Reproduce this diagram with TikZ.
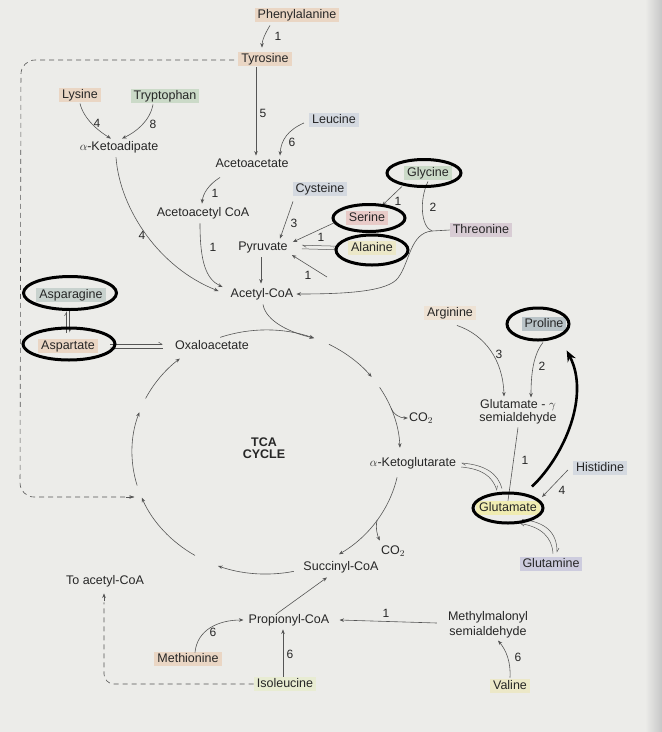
\documentclass[tikz,border=0pt]{standalone}
\usepackage{fontspec}
\setmainfont{Liberation Sans}
\usetikzlibrary{arrows.meta,calc}
\definecolor{bg}{RGB}{236,236,233}
\definecolor{ln}{RGB}{85,85,85}
\definecolor{peach}{RGB}{234,214,196}
\definecolor{lpeach}{RGB}{238,226,212}
\definecolor{grn}{RGB}{203,218,200}
\definecolor{bgrey}{RGB}{212,217,224}
\definecolor{lav}{RGB}{205,204,222}
\definecolor{prog}{RGB}{186,196,200}
\definecolor{mauve}{RGB}{216,204,212}
\definecolor{pinkc}{RGB}{232,203,200}
\definecolor{yel}{RGB}{236,232,200}
\definecolor{gyel}{RGB}{240,236,178}
\definecolor{pgrn}{RGB}{232,236,210}
\definecolor{asng}{RGB}{200,210,206}
\begin{document}
\begin{tikzpicture}[x=1pt,y=-1pt,
  every node/.style={font=\fontsize{12.5}{14}\selectfont, text=black!85},
  box/.style={inner xsep=3pt, inner ysep=1.5pt, text height=9pt, text depth=2.5pt},
  lab/.style={inner sep=1pt, font=\fontsize{12}{14}\selectfont},
  conn/.style={draw=ln, line width=0.6pt, -{Stealth[length=4.5pt,width=3.5pt]}},
  plainln/.style={draw=ln, line width=0.6pt},
  ring/.style={draw=black, line width=3pt},
  bigarrow/.style={draw=black, line width=2.6pt, -{Stealth[length=11pt,width=9pt]}},
  dashl/.style={draw=ln, line width=0.6pt, dash pattern=on 5pt off 4pt},
  harp/.style={draw=ln, line width=0.5pt, -{Straight Barb[harpoon,length=3.5pt,width=4pt]}}]
\useasboundingbox (0,0) rectangle (662,732);
\fill[bg] (0,0) rectangle (662,732);
\shade[left color=bg, right color=black!22] (645,0) rectangle (662,732);

% nodes
\node[box, fill=peach] (phe) at (297,15) {Phenylalanine};
\node[box, fill=peach] (tyr) at (265,59) {Tyrosine};
\node[box, fill=peach] (lys) at (80,95) {Lysine};
\node[box, fill=grn] (trp) at (165,96) {Tryptophan};
\node[box, fill=bgrey] (leu) at (334,120) {Leucine};
\node[box] (kad) at (119,147) {$\alpha$-Ketoadipate};
\node[box] (aca) at (252,164) {Acetoacetate};
\node[box] (acacoa) at (203,213) {Acetoacetyl CoA};
\node[box, fill=bgrey] (cys) at (320,189) {Cysteine};
\node[box, fill=grn] (gly) at (428,173) {Glycine};
\node[box, fill=pinkc] (ser) at (367,218) {Serine};
\node[box, fill=yel] (ala) at (372,248) {Alanine};
\node[box, fill=mauve] (thr) at (481,230) {Threonine};
\node[box] (pyr) at (263,247) {Pyruvate};
\node[box] (acoa) at (262,294) {Acetyl-CoA};
\node[box, fill=asng] (asn) at (71,295) {Asparagine};
\node[box, fill=peach] (asp) at (68,346) {Aspartate};
\node[box] (oaa) at (212,346) {Oxaloacetate};
\node[font=\fontsize{12.5}{12.5}\selectfont\bfseries, align=center] (tca) at (264,448) {TCA\\CYCLE};
\node[box, fill=lpeach] (arg) at (450,313) {Arginine};
\node[box, fill=prog] (pro) at (544,324) {Proline};
\node[align=center, inner sep=1pt, font=\fontsize{12.5}{13}\selectfont] (gsa) at (518,412) {Glutamate - $\gamma$\\semialdehyde};
\node[inner sep=1pt] (co2a) at (421,418) {CO$_2$};
\node[box] (akg) at (413,463) {$\alpha$-Ketoglutarate};
\node[box, fill=bgrey] (his) at (600,468) {Histidine};
\node[box, fill=gyel] (glu) at (508,508) {Glutamate};
\node[box, fill=lav] (gln) at (551,564) {Glutamine};
\node[inner sep=1pt] (co2b) at (393,551) {CO$_2$};
\node[box] (succ) at (341,567) {Succinyl-CoA};
\node[box] (toacoa) at (105,581) {To acetyl-CoA};
\node[box] (prop) at (289,620) {Propionyl-CoA};
\node[box, fill=peach] (met) at (188,659) {Methionine};
\node[box, fill=pgrn] (ile) at (285,684) {Isoleucine};
\node[align=center, inner sep=1pt, font=\fontsize{12.5}{15}\selectfont] (mms) at (488,625) {Methylmalonyl\\semialdehyde};
\node[box, fill=yel] (val) at (510,686) {Valine};

% step numbers
\node[lab] (n1) at (278,36) {1};
\node[lab] (n5) at (263,113) {5};
\node[lab] (n4a) at (97,123) {4};
\node[lab] (n8) at (153,124) {8};
\node[lab] (n6a) at (292,142) {6};
\node[lab] (n1b) at (215,193) {1};
\node[lab] (n3) at (294,223) {3};
\node[lab] (n1c) at (398,201) {1};
\node[lab] (n2) at (433,207) {2};
\node[lab] (n1d) at (321,237) {1};
\node[lab] (n1e) at (308,275) {1};
\node[lab] (n1f) at (213,247) {1};
\node[lab] (n4b) at (142,235) {4};
\node[lab] (n3b) at (499,354) {3};
\node[lab] (n2b) at (542,366) {2};
\node[lab] (n1g) at (525,460) {1};
\node[lab] (n4c) at (562,490) {4};
\node[lab] (n6b) at (213,632) {6};
\node[lab] (n6c) at (290,654) {6};
\node[lab] (n1h) at (386,613) {1};
\node[lab] (n6d) at (518,657) {6};

% coordinates
\coordinate (cyc) at (266,452);
\coordinate (ctop) at ($(cyc)+(-69:134 and 122)$);
\coordinate (br1) at ($(cyc)+(-21:134 and 122)$);
\coordinate (br2) at ($(cyc)+(34:134 and 122)$);
\coordinate (dend) at (134,497);
\coordinate (p1) at (327,277);
\coordinate (jn) at (432,231);

% TCA cycle arcs
\draw[conn] (cyc) ++(-110:134 and 122) arc[start angle=-110,end angle=-69,x radius=134,y radius=122];
\draw[conn] (cyc) ++(-62:134 and 122) arc[start angle=-62,end angle=-38,x radius=134,y radius=122];
\draw[conn] (cyc) ++(-32:134 and 122) arc[start angle=-32,end angle=-2,x radius=134,y radius=122];
\draw[conn] (cyc) ++(12:134 and 122) arc[start angle=12,end angle=57,x radius=134,y radius=122];
\draw[conn] (cyc) ++(78:134 and 122) arc[start angle=78,end angle=111,x radius=134,y radius=122];
\draw[conn] (cyc) ++(122:134 and 122) arc[start angle=122,end angle=158,x radius=134,y radius=122];
\draw[conn] (cyc) ++(164:134 and 122) arc[start angle=164,end angle=199,x radius=134,y radius=122];
\draw[conn] (cyc) ++(206:134 and 122) arc[start angle=206,end angle=230,x radius=134,y radius=122];
\draw[conn] (br1) .. controls ($(br1)+(2,6)$) and ($(co2a.west)+(-8,0)$) .. (co2a.west);
\draw[conn] (br2) .. controls ($(br2)+(-2,8)$) and ($(co2b.north west)+(-2,-8)$) .. ($(co2b.north west)+(0,-4)$);

% connectors top
\draw[conn] ($(phe.south)+(-27,3)$) .. controls (266,32) and (262,40) .. ($(tyr.north)+(-3,-4)$);
\draw[dashl, rounded corners=14] ($(tyr.west)+(-4,1)$) -- (21,60) -- (20,497) -- (dend);
\draw[ln, line width=0.6pt, -{Stealth[length=4.5pt,width=3.5pt]}] ($(dend)+(-8,0)$) -- (dend);
\draw[conn] ($(lys.south)+(0,1)$) .. controls (84,120) and (100,132) .. ($(kad.north)+(-8,-1)$);
\draw[conn] ($(trp.south)+(-12,1)$) .. controls (150,121) and (136,132) .. ($(kad.north)+(3,-1)$);
\draw[conn] ($(tyr.south)+(-9,1)$) -- ($(aca.north)+(4,-1)$);
\draw[conn] ($(leu.west)+(-5,3)$) .. controls (288,130) and (281,140) .. ($(aca.north)+(28,-1)$);
\draw[conn] ($(aca.south)+(-32,6)$) .. controls (208,185) and (203,194) .. ($(acacoa.north)+(-1,-2)$);
\draw[conn] ($(cys.south)+(-27,5)$) -- ($(pyr.north)+(17,-1)$);
\draw[conn] ($(gly.south)+(-26,6)$) -- ($(ser.north)+(15,-5)$);
\draw[conn] ($(ser.west)+(-12,5)$) -- ($(pyr.east)+(2,-5)$);
\draw[harp] ($(ala.west)+(-10,-1.8)$) -- ($(pyr.east)+(11,-1.8)$);
\draw[harp] ($(pyr.east)+(11,1.8)$) -- ($(ala.west)+(-10,1.8)$);
\draw[conn] (p1) -- ($(pyr.east)+(1,8)$);
\draw[conn] ($(pyr.south)+(-2,3)$) -- ($(acoa.north)+(-1,-3)$);
\draw[conn] ($(acacoa.south)+(-3,3)$) .. controls (200,262) and (206,279) .. ($(acoa.west)+(-5,-7)$);
\draw[conn] ($(kad.south)+(-3,3)$) .. controls (120,210) and (160,268) .. ($(acoa.west)+(-9,-3)$);
\draw[plainln] ($(gly.south)+(0,1)$) .. controls (419,200) and (421,227) .. (jn) -- (thr.west);
\draw[conn] (jn) .. controls (410,233) and (410,262) .. (398,278) .. controls (388,291) and (350,294) .. (acoa.east);
\draw[conn] ($(acoa.south)+(1,3)$) .. controls (266,322) and (292,333) .. (ctop);

% aspartate / asparagine / oxaloacetate
\draw[harp] ($(asp.north)+(-1.5,-6)$) -- ($(asn.south)+(-4.5,9)$);
\draw[harp] ($(asn.south)+(-1.5,9)$) -- ($(asp.north)+(1.5,-6)$);
\draw[harp] ($(asp)+(42,-1.8)$) -- ($(oaa.west)+(-9,-1.8)$);
\draw[harp] ($(oaa.west)+(-9,1.8)$) -- ($(asp)+(42,1.8)$);

% right side
\draw[conn] ($(arg.south)+(7,5)$) .. controls (485,335) and (503,360) .. ($(gsa.north)+(-14,-2)$);
\draw[conn] ($(pro.south)+(-1,11)$) .. controls (533,355) and (531,375) .. ($(gsa.north)+(13,-1)$);
\draw[plainln] ($(gsa.south)+(0,2)$) -- (glu.north);
\draw[conn] ($(his.west)+(-5,2)$) -- ($(glu.east)+(2,-11)$);
\draw[harp] ($(glu.north)+(-6,-12)$) .. controls (498,474) and (486,465) .. ($(akg.east)+(2,0)$);
\draw[harp] ($(akg.east)+(2,4)$) .. controls (482,469) and (492,476) .. ($(glu.north)+(-11,-10)$);
\draw[harp] ($(gln.north)+(2,-3)$) .. controls (552,537) and (541,527) .. ($(glu.south)+(12,8)$);
\draw[harp] ($(glu.south)+(14,4)$) .. controls (546,522) and (557,533) .. ($(gln.north)+(6,-4)$);

% bottom
\draw[conn] ($(prop.north)+(-12,1)$) -- ($(succ.south)+(-14,3)$);
\draw[conn] ($(met.north)+(7,1)$) .. controls (197,630) and (218,620) .. ($(prop.west)+(-2,0)$);
\draw[conn] ($(ile.north)+(-2,0)$) -- ($(prop.south)+(-6,2)$);
\draw[conn] ($(mms.west)+(-10,-2)$) -- ($(prop.east)+(7,0)$);
\draw[conn] ($(val.north)+(0,-1)$) .. controls (511,662) and (506,650) .. ($(mms.south)+(10,1)$);
\draw[dashl, rounded corners=10] (ile.west) -- (104,684) -- ($(toacoa.south)+(-1,14)$);
\draw[ln, line width=0.6pt, -{Stealth[length=4.5pt,width=3.5pt]}] ($(toacoa.south)+(-1,13)$) -- ($(toacoa.south)+(-1,5)$);

% rings
\draw[ring] ($(gly)+(-4,0)$) ellipse[x radius=37, y radius=13.5];
\draw[ring] ($(ser)+(2,0)$) ellipse[x radius=36, y radius=13.5];
\draw[ring] ($(ala)+(0,2)$) ellipse[x radius=36, y radius=15];
\draw[ring] ($(asn)+(-1,-2)$) ellipse[x radius=46.5, y radius=16.5];
\draw[ring] ($(asp)+(1,-2)$) ellipse[x radius=46, y radius=16];
\draw[ring] ($(pro)+(-6,0)$) ellipse[x radius=31, y radius=16];
\draw[ring] (glu) ellipse[x radius=35, y radius=15];
\draw[bigarrow] ($(glu.north)+(24,-14)$) .. controls (565,455) and (590,395) .. ($(pro.south east)+(0,19)$);
\end{tikzpicture}
\end{document}
